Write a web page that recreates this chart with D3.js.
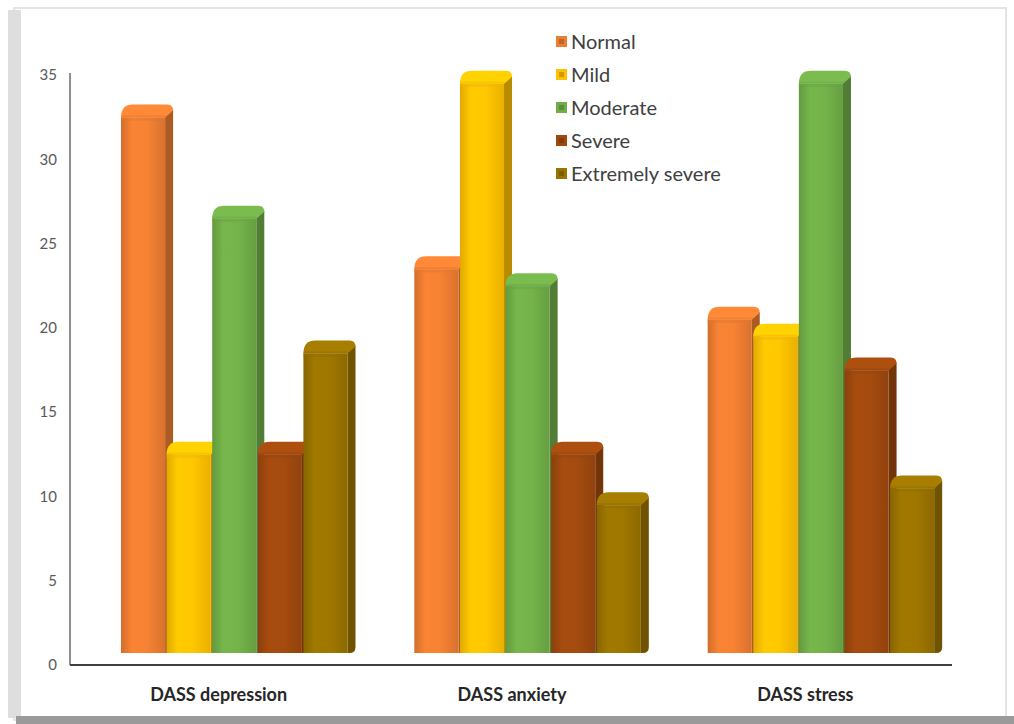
<!DOCTYPE html>
<html>
<head>
<meta charset="utf-8">
<script src="https://cdn.jsdelivr.net/npm/d3@7"></script>
<style>
  body { margin: 0; background: #fff; }
  svg { display: block; }
</style>
</head>
<body>
<div id="chart"></div>
<script>
// Data (percent of respondents per DASS level)
const categories = ["DASS depression", "DASS anxiety", "DASS stress"];
const seriesNames = ["Normal", "Mild", "Moderate", "Severe", "Extremely severe"];
const normal = [32, 23, 20];
const mild = [12, 34, 19];
const moderate = [26, 22, 34];
const severe = [12, 12, 17];
const extremelySevere = [18, 9, 10];
const yTicks = [0, 5, 10, 15, 20, 25, 30, 35];

const seriesValues = [normal, mild, moderate, severe, extremelySevere];
const colors = ["#ED7D31", "#FFC000", "#70AD47", "#9E480E", "#997300"];

const width = 1014, height = 724;
const depthX = 8, depthY = 9, floor = 12;

const svg = d3.select("#chart").append("svg")
    .attr("width", width)
    .attr("height", height);

// frame
svg.append("rect").attr("x", 14).attr("y", 8).attr("width", 992).attr("height", 712)
    .attr("fill", "#fff").attr("stroke", "#e4e4e4").attr("stroke-width", 2);
svg.append("rect").attr("x", 8).attr("y", 10).attr("width", 13).attr("height", 708)
    .attr("fill", "#dedede");
svg.append("rect").attr("x", 16).attr("y", 716).attr("width", 998).attr("height", 8)
    .attr("fill", "#9a9a9a");

const x = d3.scaleBand().domain(categories).range([70, 950]);
const xs = d3.scaleBand().domain(seriesNames).range([51, 279]);
const y = d3.scaleLinear().domain([0, 35]).range([665, 75]);

// gradients
const defs = svg.append("defs");
colors.forEach((c, i) => {
    const g = defs.append("linearGradient").attr("id", "front" + i)
        .attr("x1", "0%").attr("x2", "100%").attr("y1", "0%").attr("y2", "0%");
    const base = d3.color(c);
    g.append("stop").attr("offset", "0%").attr("stop-color", base.darker(0.35));
    g.append("stop").attr("offset", "25%").attr("stop-color", base.brighter(0.15));
    g.append("stop").attr("offset", "60%").attr("stop-color", base.brighter(0.1));
    g.append("stop").attr("offset", "100%").attr("stop-color", base.darker(0.25));
});

// y axis
const yAxis = svg.append("g")
    .attr("transform", "translate(70,0)")
    .call(d3.axisLeft(y).tickValues(yTicks).tickSize(0).tickPadding(13));
yAxis.select(".domain").remove();
yAxis.selectAll("text")
    .attr("font-family", "Lato, 'Open Sans', sans-serif")
    .attr("font-size", 15)
    .attr("fill", "#595959");

svg.append("line").attr("x1", 70).attr("x2", 70).attr("y1", 73).attr("y2", 665)
    .attr("stroke", "#6b6b6b").attr("stroke-width", 1.5);

// bars
categories.forEach((cat, ci) => {
    const g = svg.append("g");
    seriesNames.forEach((s, si) => {
        const v = seriesValues[si][ci];
        const bw = xs.bandwidth() - 1.5;
        const x0 = x(cat) + xs(s);
        const x1 = x0 + bw;
        const yt = y(v) - floor;
        const yb = y(0) - floor;
        const base = d3.color(colors[si]);
        // side
        g.append("path")
            .attr("d", `M${x1},${yt} L${x1 + depthX},${yt - depthY + 5} L${x1 + depthX},${yb - 6} Q${x1 + depthX},${yb} ${x1 + depthX - 6},${yb} L${x1},${yb} Z`)
            .attr("fill", base.darker(0.9));
        // top (rounded cap)
        g.append("path")
            .attr("d", `M${x0},${yt + 4} Q${x0},${yt - depthY} ${x0 + depthX + 4},${yt - depthY} L${x1 + depthX - 6},${yt - depthY} Q${x1 + depthX},${yt - depthY} ${x1 + depthX},${yt - depthY + 6} L${x1},${yt + 4} Z`)
            .attr("fill", base.brighter(0.25));
        // front
        g.append("rect")
            .attr("x", x0).attr("y", yt + 4)
            .attr("width", bw).attr("height", yb - yt - 4)
            .attr("fill", `url(#front${si})`);
        // bevel shading under the cap
        g.append("rect")
            .attr("x", x0).attr("y", yt + 2)
            .attr("width", bw).attr("height", 5)
            .attr("fill", base.darker(0.15)).attr("opacity", 0.5);
    });
});

// baseline
svg.append("line").attr("x1", 70).attr("x2", 952).attr("y1", 665).attr("y2", 665)
    .attr("stroke", "#3f3f3f").attr("stroke-width", 1.8);

// category labels
svg.selectAll(".cat")
    .data(categories)
    .enter().append("text")
    .attr("x", d => x(d) + x.bandwidth() / 2 + 2)
    .attr("y", 701)
    .attr("text-anchor", "middle")
    .attr("font-family", "Lato, 'Open Sans', sans-serif")
    .attr("font-weight", "bold")
    .attr("font-size", 18)
    .attr("fill", "#262626")
    .text(d => d);

// legend
const legend = svg.append("g").attr("transform", "translate(556,42)");
const item = legend.selectAll("g")
    .data(seriesNames)
    .enter().append("g")
    .attr("transform", (d, i) => `translate(0,${i * 33})`);
item.append("rect")
    .attr("x", 0).attr("y", -6)
    .attr("width", 11).attr("height", 11)
    .attr("fill", (d, i) => colors[i]);
item.append("rect")
    .attr("x", 3).attr("y", -3)
    .attr("width", 5).attr("height", 5)
    .attr("fill", (d, i) => d3.color(colors[i]).darker(0.6));
item.append("text")
    .attr("x", 15).attr("y", 0)
    .attr("dy", "0.35em")
    .attr("font-family", "Lato, 'Open Sans', sans-serif")
    .attr("font-size", 20)
    .attr("fill", "#404040")
    .text(d => d);
</script>
</body>
</html>
